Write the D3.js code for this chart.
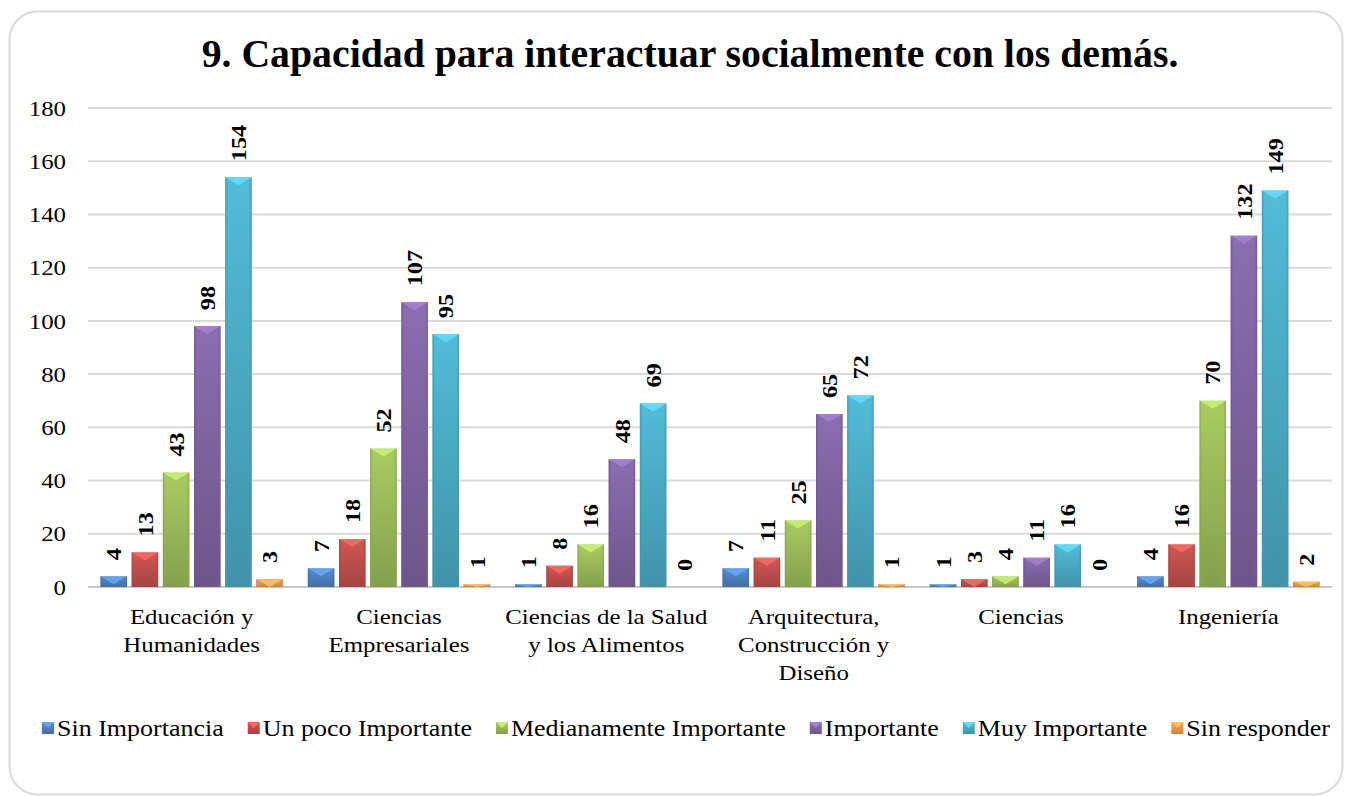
<!DOCTYPE html>
<html>
<head>
<meta charset="utf-8">
<script src="https://cdn.jsdelivr.net/npm/d3@7"></script>
<style>
  body { margin: 0; background: #fff; }
  svg { display: block; font-family: "Liberation Serif", "DejaVu Serif", serif; }
</style>
</head>
<body>
<div id="box"></div>
<script>
var W = 1351, H = 796;

var categories = [
  ["Educación y", "Humanidades"],
  ["Ciencias", "Empresariales"],
  ["Ciencias de la Salud", "y los Alimentos"],
  ["Arquitectura,", "Construcción y", "Diseño"],
  ["Ciencias"],
  ["Ingeniería"]
];
var seriesNames = ["Sin Importancia", "Un poco Importante", "Medianamente Importante",
                   "Importante", "Muy Importante", "Sin responder"];
var sinImportancia = [4, 7, 1, 7, 1, 4];
var unPoco         = [13, 18, 8, 11, 3, 16];
var medianamente   = [43, 52, 16, 25, 4, 70];
var importante     = [98, 107, 48, 65, 11, 132];
var muyImportante  = [154, 95, 69, 72, 16, 149];
var sinResponder   = [3, 1, 0, 1, 0, 2];
var yTicks = [0, 20, 40, 60, 80, 100, 120, 140, 160, 180];

var values = [sinImportancia, unPoco, medianamente, importante, muyImportante, sinResponder];
var colors = ["#4F81BD", "#C0504D", "#9BBB59", "#8064A2", "#4BACC6", "#F79646"];

// Cambria is wider than Times, stretch the text a little
var SX = 1.13;

var svg = d3.select("#box").append("svg")
  .attr("width", W)
  .attr("height", H);

// frame
svg.append("rect")
  .attr("x", 9.5).attr("y", 11.5)
  .attr("width", 1333).attr("height", 783)
  .attr("rx", 28).attr("ry", 28)
  .attr("fill", "#fff")
  .attr("stroke", "#d9d9d9")
  .attr("stroke-width", 2);

// gradients
var defs = svg.append("defs");
colors.forEach(function(c, i) {
  var g = defs.append("linearGradient")
    .attr("id", "grad" + i)
    .attr("x1", 0).attr("y1", 0).attr("x2", 0).attr("y2", 1);
  g.append("stop").attr("offset", "0%").attr("stop-color", d3.color(c).brighter(0.25));
  g.append("stop").attr("offset", "100%").attr("stop-color", d3.color(c).darker(0.45));
  var e = defs.append("linearGradient")
    .attr("id", "edge" + i)
    .attr("x1", 0).attr("y1", 0).attr("x2", 1).attr("y2", 0);
  e.append("stop").attr("offset", "0%").attr("stop-color", d3.color(c).darker(0.6)).attr("stop-opacity", 0.7);
  e.append("stop").attr("offset", "12%").attr("stop-color", c).attr("stop-opacity", 0);
  e.append("stop").attr("offset", "88%").attr("stop-color", c).attr("stop-opacity", 0);
  e.append("stop").attr("offset", "100%").attr("stop-color", d3.color(c).darker(0.6)).attr("stop-opacity", 0.7);
});

var x0 = d3.scaleBand()
  .domain(d3.range(categories.length))
  .range([88, 1332]);

var x1 = d3.scaleBand()
  .domain(d3.range(seriesNames.length))
  .range([12.5, x0.bandwidth() - 12.5])
  .paddingInner(0.15);

var y = d3.scaleLinear()
  .domain([0, 180])
  .range([587, 108]);

// gridlines
svg.append("g")
  .selectAll("line")
  .data(yTicks)
  .enter()
  .append("line")
  .attr("x1", 88).attr("x2", 1332)
  .attr("y1", function(d) { return y(d); })
  .attr("y2", function(d) { return y(d); })
  .attr("stroke", function(d) { return d === 0 ? "#c8c8c8" : "#d9d9d9"; })
  .attr("stroke-width", 2);

// y labels
svg.append("g")
  .selectAll("g")
  .data(yTicks)
  .enter()
  .append("g")
  .attr("transform", function(d) { return "translate(66," + y(d) + ") scale(" + SX + ",1)"; })
  .append("text")
  .attr("dy", "0.35em")
  .attr("text-anchor", "end")
  .attr("font-size", "22px")
  .attr("fill", "#000")
  .text(function(d) { return d; });

// bars
var cells = [];
values.forEach(function(arr, s) {
  arr.forEach(function(v, c) { cells.push({ s: s, c: c, v: v }); });
});

var bars = svg.append("g")
  .selectAll("g")
  .data(cells)
  .enter()
  .append("g")
  .attr("transform", function(d) { return "translate(" + (x0(d.c) + x1(d.s)) + ",0)"; });

var bw = x1.bandwidth();

bars.filter(function(d) { return d.v > 0; })
  .append("rect")
  .attr("x", 0)
  .attr("y", function(d) { return y(d.v); })
  .attr("width", bw)
  .attr("height", function(d) { return y(0) - y(d.v); })
  .attr("fill", function(d) { return "url(#grad" + d.s + ")"; });

bars.filter(function(d) { return d.v > 0; })
  .append("rect")
  .attr("x", 0)
  .attr("y", function(d) { return y(d.v); })
  .attr("width", bw)
  .attr("height", function(d) { return y(0) - y(d.v); })
  .attr("fill", function(d) { return "url(#edge" + d.s + ")"; });

// bevel on top
bars.filter(function(d) { return d.v > 0; })
  .append("path")
  .attr("d", function(d) {
    var t = y(d.v), h = Math.min(8, y(0) - t);
    return "M0," + t + "L" + bw + "," + t + "L" + (bw / 2) + "," + (t + h) + "Z";
  })
  .attr("fill", function(d) { return d3.color(colors[d.s]).brighter(0.7); })
  .attr("opacity", 0.9);

// value labels
bars.append("text")
  .attr("transform", function(d) {
    return "translate(" + (bw / 2) + "," + (y(d.v) - 16) + ") rotate(-90) scale(1.1,1)";
  })
  .attr("dy", "0.35em")
  .attr("font-size", "22px")
  .attr("font-weight", "bold")
  .attr("fill", "#000")
  .text(function(d) { return d.v; });

// category labels
var cat = svg.append("g")
  .selectAll("g")
  .data(categories)
  .enter()
  .append("g")
  .attr("transform", function(d, i) {
    return "translate(" + (x0(i) + x0.bandwidth() / 2) + ",624) scale(" + SX + ",1)";
  })
  .append("text")
  .attr("text-anchor", "middle")
  .attr("font-size", "22px")
  .attr("fill", "#000");

cat.selectAll("tspan")
  .data(function(d) { return d; })
  .enter()
  .append("tspan")
  .attr("x", 0)
  .attr("dy", function(d, i) { return i === 0 ? 0 : 28; })
  .text(function(d) { return d; });

// title
svg.append("g")
  .attr("transform", "translate(690,67) scale(1.02,1)")
  .append("text")
  .attr("text-anchor", "middle")
  .attr("font-size", "39px")
  .attr("font-weight", "bold")
  .attr("fill", "#000")
  .text("9. Capacidad para interactuar socialmente con los demás.");

// legend
var legend = svg.append("g");
var items = legend.selectAll("g")
  .data(seriesNames)
  .enter()
  .append("g");

items.append("rect")
  .attr("x", 0).attr("y", -6)
  .attr("width", 12).attr("height", 12)
  .attr("fill", function(d, i) { return "url(#grad" + i + ")"; });

items.append("path")
  .attr("d", "M0,-6L12,-6L6,0Z")
  .attr("fill", function(d, i) { return d3.color(colors[i]).brighter(0.7); });

items.append("g")
  .attr("transform", "translate(15,0) scale(" + SX + ",1)")
  .append("text")
  .attr("dy", "0.35em")
  .attr("font-size", "23px")
  .attr("fill", "#000")
  .text(function(d) { return d; });

var pos = 0, offsets = [];
items.each(function() {
  offsets.push(pos);
  var t = d3.select(this).select("text").node();
  pos += 15 + t.getComputedTextLength() * SX + 24;
});
var total = pos - 24;
var start = 686 - total / 2;
items.attr("transform", function(d, i) { return "translate(" + (start + offsets[i]) + ",728)"; });
</script>
</body>
</html>
